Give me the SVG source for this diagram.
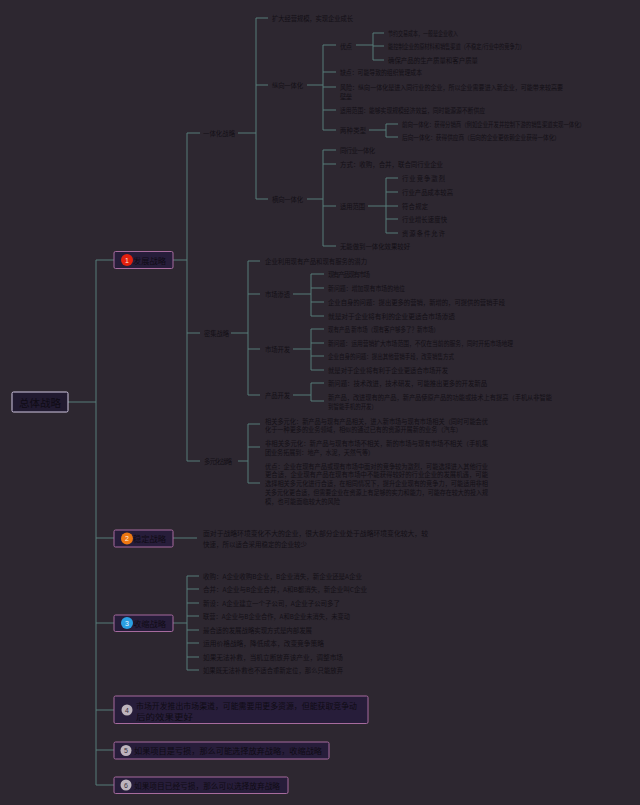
<svg xmlns="http://www.w3.org/2000/svg" width="640" height="805" viewBox="0 0 640 805">
<style>
.t{font-family:"Noto Sans CJK SC","Noto Sans",sans-serif;font-size:6.3px;fill:#130f16;dominant-baseline:central}
.n{font-family:"Noto Sans CJK SC","Noto Sans",sans-serif;font-size:8px;fill:#0f0b14;dominant-baseline:central}
.num{font-family:"Liberation Sans","Noto Sans",sans-serif;font-size:7px;text-anchor:middle;dominant-baseline:central}
.box{fill:#271d3a;stroke:#a76b9e;stroke-width:1}
.ln{fill:none;stroke:#577d79;stroke-width:1}
</style>
<rect width="640" height="805" fill="#2d2730"/>
<g id="connectors" class="ln">
<path d="M68,402H96M96,260V785M96,260H114M96,538H114M96,623H114M96,710H114M96,750H114M96,785H114"/>
<path d="M173,260H187M187,133V461M187,133H200M187,333H200M187,461H200"/>
<path d="M238,133H256M256,18V199M256,18H268M256,85H268M256,199H268"/>
<path d="M307,85H323M323,45V130M323,45H336M323,72H336M323,87H336M323,110H336M323,130H336"/>
<path d="M356,45H373M373,33V60M373,33H384M373,46H384M373,60H384"/>
<path d="M369,130H386M386,124V137M386,124H398M386,137H398"/>
<path d="M307,199H323M323,150V246M323,150H336M323,164H336M323,206H336M323,246H336"/>
<path d="M368,206H386M386,178V233M386,178H398M386,192H398M386,206H398M386,219H398M386,233H398"/>
<path d="M231,333H248M248,261V395M248,261H260M248,294H260M248,349H260M248,395H260"/>
<path d="M293,294H311M311,274V316M311,274H324M311,288H324M311,302H324M311,316H324"/>
<path d="M293,349H311M311,329V370M311,329H324M311,343H324M311,356H324M311,370H324"/>
<path d="M293,395H311M311,383V401M311,383H324M311,401H324"/>
<path d="M238,461H248M248,424V483M248,424H260M248,447H260M248,483H260"/>
<path d="M173,538H197"/>
<path d="M173,623H187M187,576V670M187,576H199M187,589H199M187,603H199M187,616H199M187,630H199M187,643H199M187,657H199M187,670H199"/>
</g>
<g id="root">
<rect x="12" y="392" width="56" height="20" rx="1.5" fill="#211a30" stroke="#d2c8e2" stroke-width="1"/>
<text x="40" y="402.5" font-family="Noto Sans CJK SC,sans-serif" font-size="10.5" fill="#0f0b14" text-anchor="middle" dominant-baseline="central">总体战略</text>
</g>
<g id="node1">
<rect class="box" x="114" y="251.5" width="59" height="17" rx="1.5"/>
<circle cx="127" cy="260" r="6" fill="#e3200f"/>
<text class="num" x="127" y="260" fill="#ffe0d8">1</text>
<text class="n" x="133" y="260" textLength="33" lengthAdjust="spacingAndGlyphs">发展战略</text>
</g>
<g id="n1-a">
<text class="t" x="203" y="133" textLength="32">一体化战略</text>
<text class="t" x="272" y="18" textLength="81">扩大经营规模，实现企业成长</text>
<text class="t" x="272" y="85" textLength="31">纵向一体化</text>
<text class="t" x="340" y="46" textLength="12">优点</text>
<text class="t" x="388" y="33" textLength="70" lengthAdjust="spacingAndGlyphs">节约交易成本，一般是企业收入</text>
<text class="t" x="388" y="46" textLength="137" lengthAdjust="spacingAndGlyphs">能控制企业的原材料和销售渠道（不稳定/行业中的竞争力）</text>
<text class="t" x="388" y="60" textLength="90" lengthAdjust="spacingAndGlyphs">确保产品的生产质量和客户质量</text>
<text class="t" x="340" y="72" textLength="82" lengthAdjust="spacingAndGlyphs">缺点：可能导致的组织管理成本</text>
<text class="t" x="340" y="87" textLength="223" lengthAdjust="spacingAndGlyphs">风险：纵向一体化是进入同行业的企业，所以企业需要进入新企业，可能带来较高要</text>
<text class="t" x="340" y="96" textLength="12">壁垒</text>
<text class="t" x="340" y="110" textLength="145" lengthAdjust="spacingAndGlyphs">适用范围：能够实现规模经济效益，同时能源源不断供应</text>
<text class="t" x="340" y="130" textLength="26">两种类型</text>
<text class="t" x="402" y="124" textLength="183" lengthAdjust="spacingAndGlyphs">前向一体化：获得分销商（例如企业开发并控制下游的销售渠道实现一体化）</text>
<text class="t" x="402" y="137" textLength="158" lengthAdjust="spacingAndGlyphs">后向一体化：获得供应商（后向的企业更依赖企业获得一体化）</text>
<text class="t" x="272" y="199" textLength="31">横向一体化</text>
<text class="t" x="340" y="150" textLength="35">同行业一体化</text>
<text class="t" x="340" y="164" textLength="103" lengthAdjust="spacingAndGlyphs">方式：收购，合并，联合同行业企业</text>
<text class="t" x="340" y="206" textLength="25">适用范围</text>
<text class="t" x="402" y="178" textLength="43">行业竞争激烈</text>
<text class="t" x="402" y="192" textLength="51">行业产品成本较高</text>
<text class="t" x="402" y="206" textLength="26">符合规定</text>
<text class="t" x="402" y="219" textLength="45">行业增长速度快</text>
<text class="t" x="402" y="233" textLength="43">资源条件允许</text>
<text class="t" x="340" y="246" textLength="70" lengthAdjust="spacingAndGlyphs">无能做到一体化效果较好</text>
</g>
<g id="n1-b">
<text class="t" x="204" y="333" textLength="25">密集战略</text>
<text class="t" x="265" y="261" textLength="102" lengthAdjust="spacingAndGlyphs">企业利用现有产品和现有服务的潜力</text>
<text class="t" x="265" y="294" textLength="25">市场渗透</text>
<text class="t" x="328" y="274" textLength="42">现有产品 现有市场</text>
<text class="t" x="328" y="288" textLength="77" lengthAdjust="spacingAndGlyphs">新问题：增加现有市场的地位</text>
<text class="t" x="328" y="302" textLength="177" lengthAdjust="spacingAndGlyphs">企业自身的问题：提出更多的营销，新增的，可提供的营销手段</text>
<text class="t" x="328" y="316" textLength="127" lengthAdjust="spacingAndGlyphs">就是对于企业将有利的企业更适合市场渗透</text>
<text class="t" x="265" y="349" textLength="25">市场开发</text>
<text class="t" x="328" y="329" textLength="111" lengthAdjust="spacingAndGlyphs">现有产品 新市场（现有客户够多了？新市场）</text>
<text class="t" x="328" y="343" textLength="185" lengthAdjust="spacingAndGlyphs">新问题：运用营销扩大市场范围，不仅在当前的服务，同时开拓市场地理</text>
<text class="t" x="328" y="356" textLength="126" lengthAdjust="spacingAndGlyphs">企业自身的问题：提出其他营销手段，改变销售方式</text>
<text class="t" x="328" y="370" textLength="120" lengthAdjust="spacingAndGlyphs">就是对于企业将有利于企业更适合市场开发</text>
<text class="t" x="265" y="395" textLength="25">产品开发</text>
<text class="t" x="328" y="383" textLength="159" lengthAdjust="spacingAndGlyphs">新问题：技术改进，技术研发，可能推出更多的开发新品</text>
<text class="t" x="328" y="397" textLength="224" lengthAdjust="spacingAndGlyphs">新产品，改进现有的产品，新产品使原产品的功能或技术上有提高（手机从非智能</text>
<text class="t" x="328" y="406" textLength="49" lengthAdjust="spacingAndGlyphs">到智能手机的开发）</text>
</g>
<g id="n1-c">
<text class="t" x="204" y="461" textLength="28">多元化战略</text>
<text class="t" x="265" y="421" textLength="223" lengthAdjust="spacingAndGlyphs">相关多元化：新产品与现有产品相关，进入新市场与现有市场相关（同时可能会优</text>
<text class="t" x="265" y="429.5" textLength="197" lengthAdjust="spacingAndGlyphs">化于一种更多的业务领域，相似的通过已有的资源开展新的业务（汽车）</text>
<text class="t" x="265" y="443" textLength="223" lengthAdjust="spacingAndGlyphs">非相关多元化：新产品与现有市场不相关，新的市场与现有市场不相关（手机集</text>
<text class="t" x="265" y="452" textLength="109" lengthAdjust="spacingAndGlyphs">团业务拓展到：地产，水泥，天然气等）</text>
<text class="t" x="265" y="466" textLength="223" lengthAdjust="spacingAndGlyphs">优点：企业在现有产品或现有市场中面对的竞争较为激烈，可能选择进入其他行业</text>
<text class="t" x="265" y="474.5" textLength="223" lengthAdjust="spacingAndGlyphs">更合适，企业现有产品在现有市场中不能获得较好的行业企业的发展机遇，可能</text>
<text class="t" x="265" y="483" textLength="223" lengthAdjust="spacingAndGlyphs">选择相关多元化进行合适，在相同情况下，提升企业现有的竞争力，可能适用非相</text>
<text class="t" x="265" y="492" textLength="223" lengthAdjust="spacingAndGlyphs">关多元化更合适，但需要企业在资源上有足够的实力和能力，可能存在较大的投入规</text>
<text class="t" x="265" y="501.5" textLength="75" lengthAdjust="spacingAndGlyphs">模，也可能面临较大的风险</text>
</g>
<g id="node2">
<rect class="box" x="114" y="530" width="59" height="17" rx="1.5"/>
<circle cx="127" cy="538.5" r="6" fill="#ee7812"/>
<text class="num" x="127" y="538.5" fill="#fff0e0">2</text>
<text class="n" x="133" y="538.5" textLength="33" lengthAdjust="spacingAndGlyphs">稳定战略</text>
<text class="t" x="203" y="533" textLength="225" lengthAdjust="spacingAndGlyphs">面对于战略环境变化不大的企业，很大部分企业处于战略环境变化较大，较</text>
<text class="t" x="203" y="544" textLength="104" lengthAdjust="spacingAndGlyphs">快速，所以适合采用稳定的企业较少</text>
</g>
<g id="node3">
<rect class="box" x="114" y="615" width="59" height="16.5" rx="1.5"/>
<circle cx="127" cy="623" r="6" fill="#2a9fe2"/>
<text class="num" x="127" y="623" fill="#e8f6ff">3</text>
<text class="n" x="133" y="623" textLength="33" lengthAdjust="spacingAndGlyphs">收缩战略</text>
<text class="t" x="203" y="576" textLength="159" lengthAdjust="spacingAndGlyphs">收购：A企业收购B企业，B企业消失，新企业还是A企业</text>
<text class="t" x="203" y="589" textLength="164" lengthAdjust="spacingAndGlyphs">合并：A企业与B企业合并，A和B都消失，新企业叫C企业</text>
<text class="t" x="203" y="603" textLength="137" lengthAdjust="spacingAndGlyphs">新设：A企业建立一个子公司，A企业子公司多了</text>
<text class="t" x="203" y="616" textLength="147" lengthAdjust="spacingAndGlyphs">联营：A企业与B企业合作，A和B企业未消失，未变动</text>
<text class="t" x="203" y="630" textLength="109" lengthAdjust="spacingAndGlyphs">最合适的发展战略实现方式是内部发展</text>
<text class="t" x="203" y="643" textLength="121" lengthAdjust="spacingAndGlyphs">运用价格战略，降低成本，改变竞争策略</text>
<text class="t" x="203" y="657" textLength="140" lengthAdjust="spacingAndGlyphs">如果无法补救，当机立断放弃该产业，调整市场</text>
<text class="t" x="203" y="670" textLength="140" lengthAdjust="spacingAndGlyphs">如果既无法补救也不适合重新定位，那么只能放弃</text>
</g>
<g id="node4">
<rect class="box" x="114" y="696" width="254" height="27.5" rx="1.5"/>
<circle cx="127" cy="710" r="5.5" fill="#bdb4bd"/>
<text class="num" x="127" y="710" fill="#3a3040">4</text>
<text class="n" x="136" y="705" textLength="221" lengthAdjust="spacingAndGlyphs">市场开发推出市场渠道，可能需要用更多资源，但能获取竞争动</text>
<text class="n" x="136" y="716.5" textLength="57" lengthAdjust="spacingAndGlyphs">后的效果更好</text>
</g>
<g id="node5">
<rect class="box" x="114" y="742" width="215" height="17" rx="1.5"/>
<circle cx="126" cy="750.5" r="5.5" fill="#bdb4bd"/>
<text class="num" x="126" y="750.5" fill="#3a3040">5</text>
<text class="n" x="134" y="750.5" textLength="188" lengthAdjust="spacingAndGlyphs">如果项目是亏损，那么可能选择放弃战略，收缩战略</text>
</g>
<g id="node6">
<rect class="box" x="114" y="777" width="174" height="16.5" rx="1.5"/>
<circle cx="126" cy="785" r="5.5" fill="#bdb4bd"/>
<text class="num" x="126" y="785" fill="#3a3040">6</text>
<text class="n" x="134" y="785" textLength="146" lengthAdjust="spacingAndGlyphs">如果项目已经亏损，那么可以选择放弃战略</text>
</g>
</svg>
